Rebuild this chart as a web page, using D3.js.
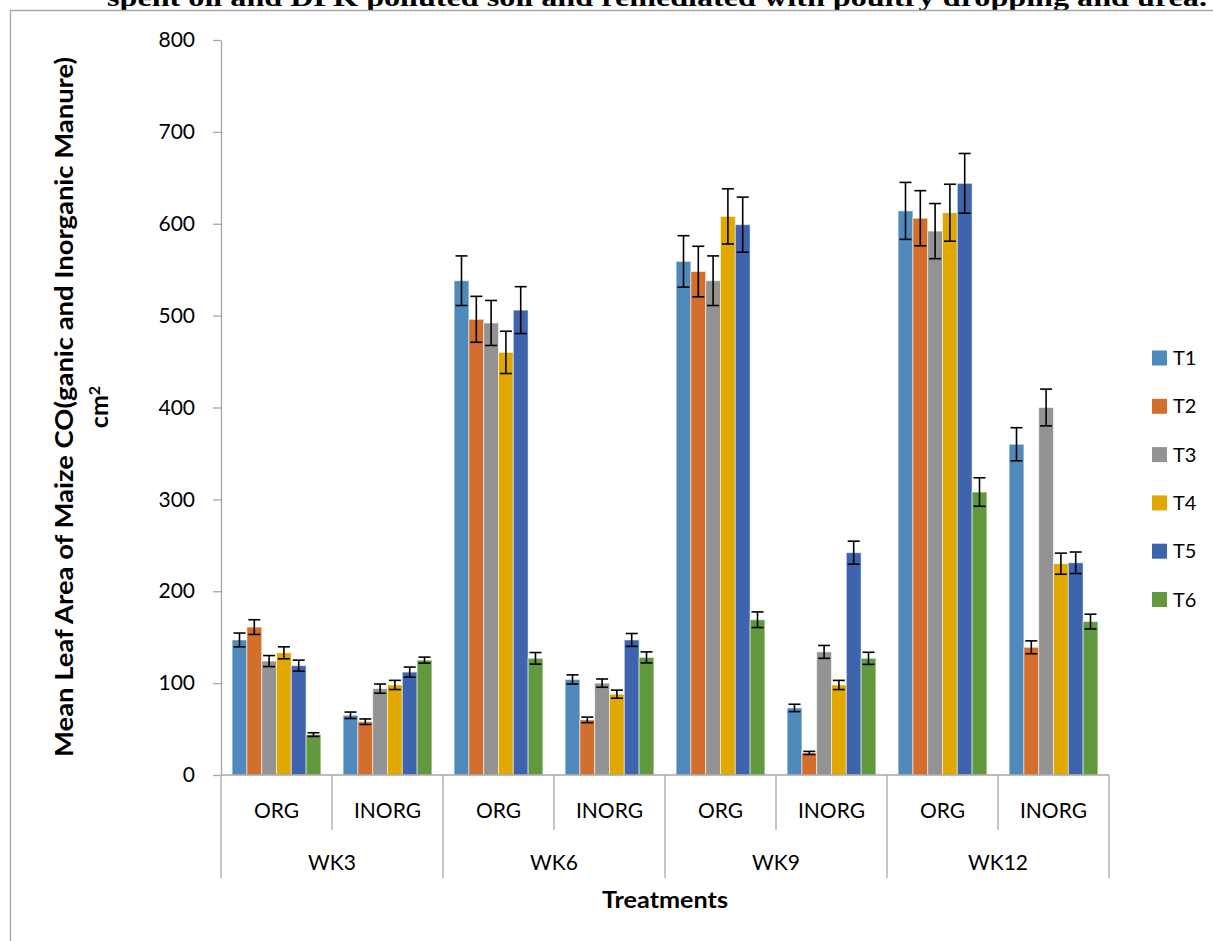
<!DOCTYPE html>
<html>
<head>
<meta charset="utf-8">
<script src="https://cdn.jsdelivr.net/npm/d3@7"></script>
<style>
  body { margin: 0; background: #fff; }
  svg { display: block; }
  .axis path, .axis line { stroke: #a6a6a6; stroke-width: 1.3; }
  .axis text { font-family: Lato, sans-serif; font-size: 21px; fill: #000; }
</style>
</head>
<body>
<div id="chart"></div>
<script>
"use strict";

// chart values
var weeks = ["WK3", "WK6", "WK9", "WK12"];
var manures = ["ORG", "INORG"];
var series = ["T1", "T2", "T3", "T4", "T5", "T6"];
var yTicks = [0, 100, 200, 300, 400, 500, 600, 700, 800];

// means per category (WK3 ORG, WK3 INORG, WK6 ORG, ... WK12 INORG)
var t1 = [147, 65, 538, 104, 559, 73, 614, 360];
var t2 = [161, 58, 496, 60, 548, 24, 606, 139];
var t3 = [124, 94, 492, 100, 538, 134, 592, 400];
var t4 = [133, 98, 460, 88, 608, 98, 612, 230];
var t5 = [119, 112, 506, 147, 599, 242, 644, 231];
var t6 = [44, 125, 127, 128, 169, 127, 308, 167];

// error bar half-lengths
var e1 = [7.5, 3.5, 27, 5, 28, 4, 31, 18];
var e2 = [8, 3, 25, 3, 27.5, 1.7, 30, 7];
var e3 = [6, 5, 24.5, 4.5, 27, 7, 30, 20];
var e4 = [6.5, 5, 23, 4.4, 30, 5, 31, 11.5];
var e5 = [6, 5.5, 25.5, 7, 30, 12.5, 32.5, 11.7];
var e6 = [2, 3.3, 6.3, 6, 8.5, 6.6, 15.5, 8];

var colors = ["#508abd", "#d46e2c", "#939393", "#e0a800", "#3d64ac", "#62993e"];

var titleText = "spent oil and DPK polluted soil and remediated with poultry dropping and urea.";

// layout
var W = 1213, H = 941;
var mLeft = 221, mRight = 1109, mTop = 40, mBottom = 775;

var svg = d3.select("#chart").append("svg").attr("width", W).attr("height", H);

// build category list and per-bar rows
var cats = [];
weeks.forEach(function (w) {
  manures.forEach(function (m) { cats.push(w + "|" + m); });
});
var means = [t1, t2, t3, t4, t5, t6];
var errs = [e1, e2, e3, e4, e5, e6];
var rows = [];
cats.forEach(function (c, ci) {
  series.forEach(function (s, si) {
    rows.push({ cat: c, s: s, si: si, v: means[si][ci], e: errs[si][ci] });
  });
});

var x = d3.scaleBand().domain(cats).range([mLeft, mRight]).padding(0);
var xs = d3.scaleBand().domain(series).range([0, x.bandwidth()]).paddingInner(0).paddingOuter(0.75);
var xw = d3.scaleBand().domain(weeks).range([mLeft, mRight]).padding(0);
var y = d3.scaleLinear().domain([0, 800]).range([mBottom, mTop]);

// title, cut off at the top of the page like in the source
svg.append("text")
  .attr("x", 107).attr("y", 6)
  .attr("textLength", 1100).attr("lengthAdjust", "spacingAndGlyphs")
  .style("font-family", "'Liberation Serif', serif").style("font-weight", "bold").style("font-size", "26px")
  .text(titleText);

// outer frame (left and top edges visible)
svg.append("path")
  .attr("d", "M10.5," + H + "V10.5H" + W)
  .attr("fill", "none").attr("stroke", "#a8a8a8").attr("stroke-width", 1.4);

// y axis
var yAxis = d3.axisLeft(y).tickValues(yTicks).tickSize(8).tickPadding(18).tickSizeOuter(0);
svg.append("g").attr("class", "y axis").attr("transform", "translate(" + mLeft + ",0)").call(yAxis);

// bars
svg.append("g").selectAll(".bar").data(rows).enter().append("rect")
  .attr("class", "bar")
  .attr("x", function (d) { return x(d.cat) + xs(d.s); })
  .attr("width", xs.bandwidth())
  .attr("y", function (d) { return y(d.v); })
  .attr("height", function (d) { return y(0) - y(d.v); })
  .attr("fill", function (d) { return colors[d.si]; })
  .attr("stroke", "rgba(255,255,255,0.55)").attr("stroke-width", 1);

// error bars
var eb = svg.append("g").attr("stroke", "#000").attr("stroke-width", 1.6);
var cap = 6;
rows.forEach(function (d) {
  var cx = x(d.cat) + xs(d.s) + xs.bandwidth() / 2;
  eb.append("line").attr("x1", cx).attr("x2", cx).attr("y1", y(d.v + d.e)).attr("y2", y(d.v - d.e));
  eb.append("line").attr("x1", cx - cap).attr("x2", cx + cap).attr("y1", y(d.v + d.e)).attr("y2", y(d.v + d.e));
  eb.append("line").attr("x1", cx - cap).attr("x2", cx + cap).attr("y1", y(d.v - d.e)).attr("y2", y(d.v - d.e));
});

// multi-level category axis
var xa = svg.append("g").attr("class", "axis");
xa.append("line").attr("x1", mLeft).attr("x2", mRight).attr("y1", mBottom).attr("y2", mBottom);
cats.forEach(function (c, i) {
  if (i % 2 === 1) {
    xa.append("line").attr("x1", x(c)).attr("x2", x(c)).attr("y1", mBottom).attr("y2", 830);
  }
  xa.append("text").attr("x", x(c) + x.bandwidth() / 2).attr("y", 811).attr("dy", "0.35em")
    .attr("text-anchor", "middle").text(c.split("|")[1]);
});
weeks.forEach(function (w) {
  xa.append("line").attr("x1", xw(w)).attr("x2", xw(w)).attr("y1", mBottom).attr("y2", 878);
  xa.append("text").attr("x", xw(w) + xw.bandwidth() / 2).attr("y", 863).attr("dy", "0.35em")
    .attr("text-anchor", "middle").text(w);
});
xa.append("line").attr("x1", mRight).attr("x2", mRight).attr("y1", mBottom).attr("y2", 878);

// axis titles
svg.append("text").attr("x", (mLeft + mRight) / 2).attr("y", 900).attr("dy", "0.35em")
  .attr("text-anchor", "middle")
  .attr("textLength", 126).attr("lengthAdjust", "spacingAndGlyphs")
  .style("font-family", "Lato, sans-serif").style("font-weight", "bold").style("font-size", "23px")
  .text("Treatments");

var yl = svg.append("text")
  .attr("transform", "translate(64,407) rotate(-90)")
  .attr("text-anchor", "middle")
  .style("font-family", "Lato, sans-serif").style("font-weight", "bold").style("font-size", "25px");
yl.append("tspan").attr("x", 0).attr("dy", "0.35em")
  .attr("textLength", 700).attr("lengthAdjust", "spacingAndGlyphs")
  .text("Mean Leaf Area of Maize CO(ganic and Inorganic Manure)");
yl.append("tspan").attr("x", 0).attr("dy", "1.4em").text("cm");
yl.append("tspan").attr("dy", "-0.5em").style("font-size", "16px").text("2");

// legend
var legend = svg.append("g").attr("class", "legend");
series.forEach(function (s, i) {
  var ly = 358 + i * 48.3;
  legend.append("rect").attr("x", 1152).attr("y", ly - 7.5).attr("width", 15).attr("height", 15).attr("fill", colors[i]);
  legend.append("text").attr("x", 1173).attr("y", ly).attr("dy", "0.35em")
    .style("font-family", "Lato, sans-serif").style("font-size", "20px").text(s);
});
</script>
</body>
</html>
